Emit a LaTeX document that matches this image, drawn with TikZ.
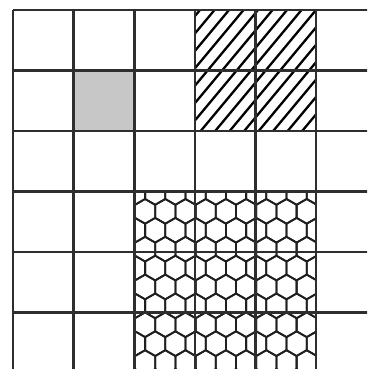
\documentclass[tikz,border=0pt]{standalone}
\usetikzlibrary{calc}
\tikzset{
  gridline/.style={line width=2.6pt, draw=black!82},
  hatchline/.style={line width=2.3pt, draw=black},
  hexline/.style={line width=1.8pt, draw=black!88, line join=round},
  graycell/.style={fill=black!22, draw=none}
}
\begin{document}
\begin{tikzpicture}[x=1pt,y=-1pt]
\useasboundingbox (0,0) rectangle (367,369);
\fill[white] (0,0) rectangle (367,369);
\begin{scope}
\clip (0,0) rectangle (367,369);
% gray cell
\path[graycell] (73.6,70.5) rectangle (134.2,131);
% hatch region
\begin{scope}
\clip (194.8,10) rectangle (316,131);
\foreach \k in {-2,...,16}{
  \draw[hatchline] ({200+14.5*\k-125},{10+150}) -- ({200+14.5*\k+35},{10-42});
}
\end{scope}
% hexagon region
\begin{scope}
\clip (134.2,191.5) rectangle (316,369);
\foreach \n in {-2,...,10}{
  \pgfmathsetmacro{\cy}{211.35+18.9*\n}
  \pgfmathsetmacro{\off}{mod(\n+20,2)*10.1}
  \foreach \k in {-1,...,9}{
    \pgfmathsetmacro{\cx}{145.1+\off+20.2*\k}
    \draw[hexline] (\cx,\cy-12.35) -- (\cx+10.1,\cy-6.55) -- (\cx+10.1,\cy+6.55)
      -- (\cx,\cy+12.35) -- (\cx-10.1,\cy+6.55) -- (\cx-10.1,\cy-6.55) -- cycle;
  }
}
\end{scope}
% grid
\foreach \x in {13,73.6,134.2,194.8,255.4,316}{
  \draw[gridline] (\x,10) -- (\x,372);
}
\foreach \y in {10,70.5,131,191.5,252,312.5}{
  \draw[gridline] (13,\y) -- (370,\y);
}
\end{scope}
\end{tikzpicture}
\end{document}
